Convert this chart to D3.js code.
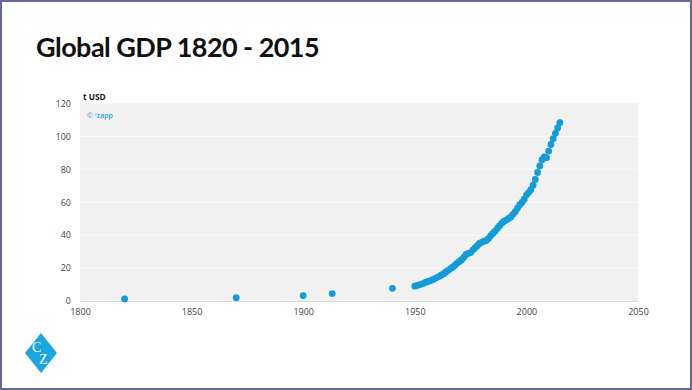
<!DOCTYPE html>
<html>
<head>
<meta charset="utf-8">
<script src="https://cdn.jsdelivr.net/npm/d3@7"></script>
<style>
  html, body { margin: 0; padding: 0; background: #fff; }
  svg { display: block; }
</style>
</head>
<body>
<svg id="chart" width="692" height="390"></svg>
<script>
// ---- data ----
const earlyYears = [1820, 1870, 1900, 1913, 1940];
const earlyValues = [1.2, 2.0, 3.3, 4.5, 7.7];

const annualYears = d3.range(1950, 2016);
const annualValues = [
  9.0, 9.4, 9.8, 10.3, 10.7, 11.4, 11.9, 12.4, 12.9, 13.6,      // 1950-1959
  14.4, 15.0, 15.8, 16.6, 17.7, 18.6, 19.7, 20.5, 21.7, 23.0,    // 1960-1969
  24.0, 25.1, 26.6, 28.3, 28.9, 29.4, 30.9, 32.2, 33.6, 34.9,    // 1970-1979
  35.6, 36.3, 36.7, 37.9, 39.6, 41.0, 42.4, 44.0, 45.7, 47.3,    // 1980-1989
  48.4, 49.1, 50.1, 51.0, 52.6, 54.3, 56.3, 58.3, 59.8, 61.8,    // 1990-1999
  64.3, 65.8, 67.6, 70.3, 73.8, 78.0, 82.0, 85.8, 87.4, 87.0,    // 2000-2009
  91.0, 95.0, 98.5, 101.8, 105.0, 108.2                          // 2010-2015
];

const xTicks = [1800, 1850, 1900, 1950, 2000, 2050];
const yTicks = [0, 20, 40, 60, 80, 100, 120];

const titleText = "Global GDP 1820 - 2015";
const unitText = "t USD";

// ---- drawing ----
const svg = d3.select("#chart");
const W = 692, H = 390;

// frame
svg.append("rect")
  .attr("x", 1).attr("y", 1).attr("width", W - 2).attr("height", H - 2)
  .attr("fill", "#fff").attr("stroke", "#636897").attr("stroke-width", 2);

// title
svg.append("text")
  .attr("x", 36).attr("y", 57)
  .attr("font-family", "Lato, 'Open Sans', sans-serif")
  .attr("font-weight", 700)
  .attr("font-size", 27)
  .attr("letter-spacing", -0.55)
  .attr("fill", "#111")
  .text(titleText);

const x = d3.scaleLinear().domain([1800, 2050]).range([80, 638]);
const y = d3.scaleLinear().domain([0, 120]).range([301, 103.3]);

// plot background
svg.append("rect")
  .attr("x", x(1800)).attr("y", y(120))
  .attr("width", x(2050) - x(1800)).attr("height", y(0) - y(120))
  .attr("fill", "#f1f1f1");

// gridlines
svg.append("g")
  .selectAll("line")
  .data(yTicks.filter(d => d > 0 && d < 120))
  .join("line")
  .attr("x1", x(1800)).attr("x2", x(2050))
  .attr("y1", d => y(d)).attr("y2", d => y(d))
  .attr("stroke", "#fbfbfb").attr("stroke-width", 1);

// x axis
const xAxis = d3.axisBottom(x).tickValues(xTicks).tickFormat(d3.format("d")).tickSize(0).tickPadding(8);
const gx = svg.append("g").attr("transform", `translate(0,${y(0)})`).call(xAxis);
gx.select(".domain").attr("stroke", "#dadada");
gx.selectAll("text")
  .attr("font-family", "'Open Sans', sans-serif")
  .attr("font-size", 9).attr("fill", "#444");

// y axis
const yAxis = d3.axisLeft(y).tickValues(yTicks).tickFormat(d3.format("d")).tickSize(0).tickPadding(9);
const gy = svg.append("g").attr("transform", `translate(${x(1800)},0)`).call(yAxis);
gy.select(".domain").remove();
gy.selectAll("text")
  .attr("font-family", "'Open Sans', sans-serif")
  .attr("font-size", 9).attr("fill", "#444");

// unit label
svg.append("text")
  .attr("x", 83).attr("y", 100)
  .attr("font-family", "'Open Sans', sans-serif")
  .attr("font-weight", 700).attr("font-size", 8.3).attr("fill", "#111")
  .text(unitText);

// copyright
const cp = svg.append("text")
  .attr("x", 87).attr("y", 118)
  .attr("font-family", "'Open Sans', sans-serif")
  .attr("font-size", 7).attr("fill", "#2d9fd6");
cp.append("tspan").text("© ");
cp.append("tspan").attr("font-size", 4.5).attr("dy", -2).text("c");
cp.append("tspan").attr("dy", 2).attr("font-weight", 600).text("zapp");

// dots
const points = earlyYears.map((d, i) => ({year: d, value: earlyValues[i]}))
  .concat(annualYears.map((d, i) => ({year: d, value: annualValues[i]})));

svg.append("g")
  .selectAll("circle")
  .data(points)
  .join("circle")
  .attr("cx", d => x(d.year))
  .attr("cy", d => y(d.value))
  .attr("r", 3.4)
  .attr("fill", "#129cd8");

// logo
const logo = svg.append("g").attr("transform", "translate(41,353)");
logo.append("path")
  .attr("d", "M0,-20 L16,0 L0,20 L-16,0 Z")
  .attr("fill", "#1ba6e0");
const lt = logo.append("text")
  .attr("font-family", "'Liberation Serif', 'DejaVu Serif', serif")
  .attr("font-size", 14).attr("fill", "#fff");
lt.append("tspan").attr("x", -9).attr("y", -1).text("C");
lt.append("tspan").attr("x", -2).attr("y", 11).text("Z");
</script>
</body>
</html>
